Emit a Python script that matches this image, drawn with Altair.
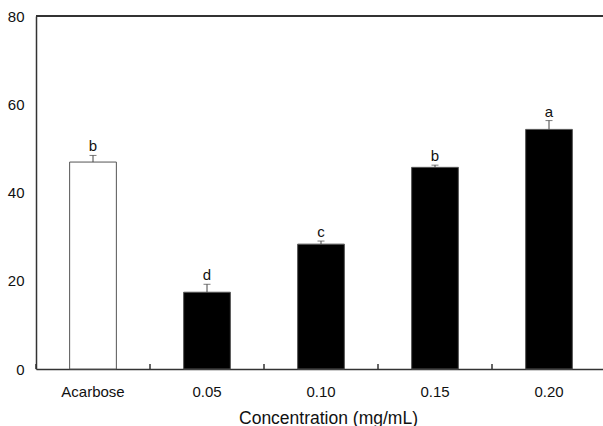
import altair as alt
import pandas as pd

categories = ["Acarbose", "0.05", "0.10", "0.15", "0.20"]
means = [46.9, 17.4, 28.3, 45.7, 54.3]
errors = [1.5, 1.8, 0.7, 0.5, 2.0]
letters = ["b", "d", "c", "b", "a"]
groups = ["control", "sample", "sample", "sample", "sample"]
y_ticks = [0, 20, 40, 60, 80]

df = pd.DataFrame({
    "cat": categories,
    "mean": means,
    "err": errors,
    "top": [m + e for m, e in zip(means, errors)],
    "letter": letters,
    "group": groups,
})

W, H = 567, 353
FONT = "Liberation Sans"
AX = "#333333"

xscale = alt.Scale(domain=categories, range=[0, 570], paddingInner=0.59, paddingOuter=0.295)
yscale = alt.Scale(domain=[0, 80], nice=False)

base = alt.Chart(df)

bars = base.mark_bar(stroke="#555555", strokeWidth=1).encode(
    x=alt.X("cat:N", scale=xscale, sort=categories,
            axis=alt.Axis(orient="bottom", labelAngle=0, ticks=False, tickSize=0,
                          labelPadding=15, labelFontSize=15, labelFont=FONT,
                          labelColor="#111111", domainColor=AX, domainWidth=1.5,
                          title="Concentration (mg/mL)", titleFontSize=17.5,
                          titleFont=FONT, titleFontWeight="normal", titleColor="#111111",
                          titlePadding=10, titleX=292)),
    y=alt.Y("mean:Q", scale=yscale,
            axis=alt.Axis(values=y_ticks, ticks=False, tickSize=0, grid=False,
                          labelPadding=12, labelFontSize=15, labelFont=FONT,
                          labelColor="#111111", domainColor=AX, domainWidth=1.5,
                          title=None)),
    fill=alt.Fill("group:N", scale=alt.Scale(domain=["control", "sample"],
                                             range=["#ffffff", "#000000"]),
                  legend=None),
)

whisk = base.mark_rule(color="#444444", strokeWidth=1).encode(
    x=alt.X("cat:N", sort=categories),
    y=alt.Y("mean:Q"),
    y2="top:Q",
)

caps = base.mark_tick(color="#444444", thickness=1, size=7, orient="horizontal").encode(
    x=alt.X("cat:N", sort=categories),
    y=alt.Y("top:Q"),
)

# small inward ticks at the boundaries between category bands
sep = base.mark_rule(color=AX, strokeWidth=1.5, xOffset=-57).encode(
    x=alt.X("cat:N", sort=categories),
    y=alt.value(H),
    y2=alt.value(H - 5),
)

text = base.mark_text(baseline="alphabetic", dy=-4, fontSize=15, font=FONT,
                      color="#111111").encode(
    x=alt.X("cat:N", sort=categories),
    y=alt.Y("top:Q"),
    text="letter:N",
)

topline = alt.Chart(df).mark_rule(color=AX, strokeWidth=1.5).encode(
    x=alt.value(0), x2=alt.value(W + 10), y=alt.value(0)
)

chart = alt.layer(bars, whisk, caps, sep, text, topline).properties(
    width=W, height=H,
    autosize=alt.AutoSizeParams(type="none"),
    padding={"left": 36, "top": 16, "right": 0, "bottom": 57},
).configure_view(stroke=None).configure(background="white")

chart.save("out.html", embed_options={"renderer": "svg", "actions": False})
